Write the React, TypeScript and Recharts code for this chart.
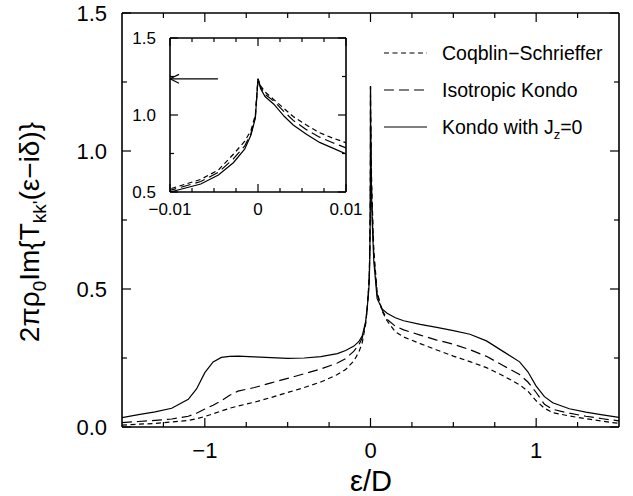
import React from 'react';
import { LineChart, Line, XAxis, YAxis, ReferenceLine, Legend, Label } from 'recharts';

// ---------- data ----------
const xValues = [
  -1.5, -1.4, -1.3, -1.2, -1.1, -1.05, -1.0, -0.95, -0.9, -0.85,
  -0.8, -0.7, -0.6, -0.5, -0.4, -0.3, -0.2, -0.15, -0.1, -0.07,
  -0.05, -0.03, -0.02, -0.01, -0.0065, -0.0045, -0.0028, -0.0015, -0.0008, -0.0003,
  0, 0.0003, 0.0008, 0.0018, 0.003, 0.004, 0.0055, 0.007, 0.0085, 0.01,
  0.02, 0.04, 0.07, 0.1, 0.15, 0.2, 0.3, 0.4, 0.5, 0.6,
  0.7, 0.8, 0.9, 0.95, 1.0, 1.05, 1.1, 1.2, 1.3, 1.4, 1.5,
];

const coqblinSchrieffer = [
  0.007, 0.01, 0.013, 0.018, 0.024, 0.03, 0.038, 0.048, 0.058, 0.068,
  0.076, 0.09, 0.107, 0.125, 0.143, 0.163, 0.19, 0.208, 0.24, 0.272,
  0.305, 0.37, 0.425, 0.52, 0.582, 0.643, 0.745, 0.83, 0.9, 1.0,
  1.235, 1.19, 1.15, 1.1, 1.04, 0.99, 0.935, 0.885, 0.85, 0.82,
  0.64, 0.49, 0.42, 0.385, 0.345, 0.326, 0.302, 0.279, 0.257, 0.237,
  0.215, 0.186, 0.153, 0.13, 0.095, 0.068, 0.052, 0.04, 0.03, 0.021, 0.013,
];

const isotropicKondo = [
  0.016, 0.02, 0.024, 0.029, 0.039, 0.05, 0.065, 0.079, 0.095, 0.115,
  0.13, 0.143, 0.16, 0.176, 0.193, 0.21, 0.232, 0.248, 0.275, 0.298,
  0.322, 0.375, 0.43, 0.51, 0.568, 0.628, 0.715, 0.8, 0.88, 0.99,
  1.235, 1.18, 1.135, 1.09, 1.02, 0.965, 0.905, 0.856, 0.82, 0.786,
  0.62, 0.48, 0.425, 0.39, 0.365, 0.352, 0.333, 0.315, 0.3, 0.28,
  0.256, 0.223, 0.19, 0.163, 0.125, 0.082, 0.064, 0.05, 0.039, 0.03, 0.022,
];

const kondoJz0 = [
  0.034, 0.045, 0.055, 0.068, 0.1, 0.138, 0.197, 0.236, 0.252, 0.256,
  0.257, 0.254, 0.251, 0.249, 0.25, 0.255, 0.266, 0.277, 0.293, 0.31,
  0.33, 0.38, 0.43, 0.5, 0.552, 0.61, 0.69, 0.78, 0.87, 0.98,
  1.235, 1.17, 1.12, 1.07, 0.99, 0.935, 0.875, 0.822, 0.785, 0.748,
  0.6, 0.465, 0.428, 0.412, 0.396, 0.385, 0.372, 0.361, 0.349, 0.336,
  0.312, 0.274, 0.236, 0.2, 0.148, 0.11, 0.088, 0.066, 0.054, 0.044, 0.035,
];

const seriesLabels = ['Coqblin\u2212Schrieffer', 'Isotropic Kondo', 'Kondo with J'];

const mainXTicks = [-1.25, -1, -0.75, -0.5, -0.25, 0, 0.25, 0.5, 0.75, 1, 1.25];
const mainXLabels = [-1, 0, 1];
const mainYTicks = [0, 0.25, 0.5, 0.75, 1, 1.25, 1.5];
const mainYLabels = [0, 0.5, 1, 1.5];

const insetXTicks = [-0.01, -0.0075, -0.005, -0.0025, 0, 0.0025, 0.005, 0.0075, 0.01];
const insetXLabels = [-0.01, 0, 0.01];
const insetYTicks = [0.5, 0.75, 1, 1.25, 1.5];
const insetYLabels = [0.5, 1, 1.5];

// arrow annotation in the inset (data units)
const arrowY = 1.235;
const arrowTipX = -0.01;
const arrowTailX = -0.00455;
const arrowHeadDx = 0.00102;
const arrowHeadDy = 0.029;

const rows = xValues.map((x, i) => ({
  x,
  cs: coqblinSchrieffer[i],
  iso: isotropicKondo[i],
  kz: kondoJz0[i],
}));

// ---------- styles ----------
const FONT = '"Liberation Sans", Arial, Helvetica, sans-serif';
const W = 633;
const H = 496;
const CS_DASH = '5 3.5';
const ISO_DASH = '10 5';

const fmtX = (v: number) => (v < 0 ? '\u2212' + String(Math.abs(v)) : String(v));
const fmtY = (v: number) => v.toFixed(1);
const isIn = (arr: number[], v: number) => arr.some((a) => Math.abs(a - v) < 1e-9);

type TickOpts = {
  labels: number[];
  side: 'bottom' | 'top' | 'left' | 'right';
  major: number;
  minor: number;
  fontSize?: number;
  labelOffset?: number;
  fmt?: (v: number) => string;
};

function makeTick(o: TickOpts) {
  return (props: any) => {
    const { x, y, payload } = props;
    const v = payload.value as number;
    const isMajor = isIn(o.labels, v);
    const len = isMajor ? o.major : o.minor;
    let x2 = x;
    let y2 = y;
    if (o.side === 'bottom') y2 = y - len;
    if (o.side === 'top') y2 = y + len;
    if (o.side === 'left') x2 = x + len;
    if (o.side === 'right') x2 = x - len;
    let label = null;
    if (isMajor && o.fmt && o.fontSize) {
      if (o.side === 'bottom') {
        label = (
          <text x={x} y={y + (o.labelOffset || 0)} textAnchor="middle" fontSize={o.fontSize} fontFamily={FONT} fill="#000">
            {o.fmt(v)}
          </text>
        );
      } else if (o.side === 'left') {
        label = (
          <text x={x - (o.labelOffset || 0)} y={y + o.fontSize * 0.36} textAnchor="end" fontSize={o.fontSize} fontFamily={FONT} fill="#000">
            {o.fmt(v)}
          </text>
        );
      }
    }
    return (
      <g>
        <line x1={x} y1={y} x2={x2} y2={y2} stroke="#000" strokeWidth={1.2} />
        {label}
      </g>
    );
  };
}

const axisLine = { stroke: '#000', strokeWidth: 1.6 };

const renderXTitle = () => (
  <text x={371} y={491} textAnchor="middle" fontSize={29} fontFamily={FONT} fill="#000">
    ε/D
  </text>
);

const renderYTitle = () => (
  <text
    x={0}
    y={0}
    transform="translate(39,232) rotate(-90)"
    textAnchor="middle"
    fontSize={28}
    fontFamily={FONT}
    fill="#000"
  >
    <tspan>2πρ</tspan>
    <tspan fontSize={19} dy={7}>0</tspan>
    <tspan dy={-7}>Im{'{'}T</tspan>
    <tspan fontSize={19} dy={7}>kk'</tspan>
    <tspan dy={-7}>(ε−iδ){'}'}</tspan>
  </text>
);

const legendDashes = [CS_DASH, ISO_DASH, undefined];

const renderLegend = () => (
  <svg width={245} height={120} style={{ display: 'block' }}>
    {seriesLabels.map((name, i) => {
      const cy = 23 + i * 37;
      return (
        <g key={name}>
          <line x1={9} x2={52} y1={cy} y2={cy} stroke="#000" strokeWidth={1.2} strokeDasharray={legendDashes[i]} />
          <text x={67} y={cy + 7} fontSize={19.5} fontFamily={FONT} fill="#000">
            <tspan>{name}</tspan>
            {i === 2 && (
              <>
                <tspan fontSize={13} dy={5}>z</tspan>
                <tspan dy={-5}>=0</tspan>
              </>
            )}
          </text>
        </g>
      );
    })}
  </svg>
);

// plot-area rectangles (pixels in the 633x496 picture)
const MAIN = { left: 122, right: 619, top: 13, bottom: 427 };
const INSET = { left: 170, right: 346, top: 38, bottom: 192 };

function MainChart() {
  return (
    <LineChart
      width={W}
      height={H}
      data={rows}
      margin={{ top: MAIN.top - 1, right: W - MAIN.right - 1, bottom: H - MAIN.bottom - 1, left: MAIN.left - 1 }}
    >
      <XAxis
        xAxisId="b"
        dataKey="x"
        type="number"
        domain={[-1.5, 1.5]}
        allowDataOverflow
        ticks={mainXTicks}
        interval={0}
        height={1}
        tickSize={0}
        tickMargin={0}
        tickLine={false}
        axisLine={axisLine}
        tick={makeTick({ labels: mainXLabels, side: 'bottom', major: 9, minor: 5, fontSize: 22, labelOffset: 31, fmt: fmtX })}
      >
        <Label content={renderXTitle} />
      </XAxis>
      <XAxis
        xAxisId="t"
        orientation="top"
        dataKey="x"
        type="number"
        domain={[-1.5, 1.5]}
        allowDataOverflow
        ticks={mainXTicks}
        interval={0}
        height={1}
        tickSize={0}
        tickMargin={0}
        tickLine={false}
        axisLine={axisLine}
        tick={makeTick({ labels: mainXLabels, side: 'top', major: 9, minor: 5 })}
      />
      <YAxis
        yAxisId="l"
        type="number"
        domain={[0, 1.5]}
        allowDataOverflow
        ticks={mainYTicks}
        interval={0}
        width={1}
        tickSize={0}
        tickMargin={0}
        tickLine={false}
        axisLine={axisLine}
        tick={makeTick({ labels: mainYLabels, side: 'left', major: 9, minor: 5, fontSize: 22, labelOffset: 15, fmt: fmtY })}
      >
        <Label content={renderYTitle} />
      </YAxis>
      <YAxis
        yAxisId="r"
        orientation="right"
        type="number"
        domain={[0, 1.5]}
        allowDataOverflow
        ticks={mainYTicks}
        interval={0}
        width={1}
        tickSize={0}
        tickMargin={0}
        tickLine={false}
        axisLine={axisLine}
        tick={makeTick({ labels: mainYLabels, side: 'right', major: 9, minor: 5 })}
      />
      <Legend
        content={renderLegend}
        layout="horizontal"
        verticalAlign="middle"
        align="center"
        wrapperStyle={{ left: 375, top: 30, width: 245, height: 120 }}
      />
      <Line xAxisId="b" yAxisId="l" dataKey="cs" type="linear" stroke="#000" strokeWidth={1.2} strokeDasharray={CS_DASH} dot={false} isAnimationActive={false} />
      <Line xAxisId="b" yAxisId="l" dataKey="iso" type="linear" stroke="#000" strokeWidth={1.2} strokeDasharray={ISO_DASH} dot={false} isAnimationActive={false} />
      <Line xAxisId="b" yAxisId="l" dataKey="kz" type="linear" stroke="#000" strokeWidth={1.2} dot={false} isAnimationActive={false} />
    </LineChart>
  );
}

function InsetChart() {
  return (
    <LineChart
      width={W}
      height={H}
      data={rows}
      margin={{ top: INSET.top - 1, right: W - INSET.right - 1, bottom: H - INSET.bottom - 1, left: INSET.left - 1 }}
    >
      <XAxis
        xAxisId="b"
        dataKey="x"
        type="number"
        domain={[-0.01, 0.01]}
        allowDataOverflow
        ticks={insetXTicks}
        interval={0}
        height={1}
        tickSize={0}
        tickMargin={0}
        tickLine={false}
        axisLine={axisLine}
        tick={makeTick({ labels: insetXLabels, side: 'bottom', major: 8, minor: 4, fontSize: 17, labelOffset: 23, fmt: fmtX })}
      />
      <XAxis
        xAxisId="t"
        orientation="top"
        dataKey="x"
        type="number"
        domain={[-0.01, 0.01]}
        allowDataOverflow
        ticks={insetXTicks}
        interval={0}
        height={1}
        tickSize={0}
        tickMargin={0}
        tickLine={false}
        axisLine={axisLine}
        tick={makeTick({ labels: insetXLabels, side: 'top', major: 8, minor: 4 })}
      />
      <YAxis
        yAxisId="l"
        type="number"
        domain={[0.5, 1.5]}
        allowDataOverflow
        ticks={insetYTicks}
        interval={0}
        width={1}
        tickSize={0}
        tickMargin={0}
        tickLine={false}
        axisLine={axisLine}
        tick={makeTick({ labels: insetYLabels, side: 'left', major: 8, minor: 4, fontSize: 17, labelOffset: 14, fmt: fmtY })}
      />
      <YAxis
        yAxisId="r"
        orientation="right"
        type="number"
        domain={[0.5, 1.5]}
        allowDataOverflow
        ticks={insetYTicks}
        interval={0}
        width={1}
        tickSize={0}
        tickMargin={0}
        tickLine={false}
        axisLine={axisLine}
        tick={makeTick({ labels: insetYLabels, side: 'right', major: 8, minor: 4 })}
      />
      <Line xAxisId="b" yAxisId="l" dataKey="cs" type="linear" stroke="#000" strokeWidth={1.2} strokeDasharray={CS_DASH} dot={false} isAnimationActive={false} />
      <Line xAxisId="b" yAxisId="l" dataKey="iso" type="linear" stroke="#000" strokeWidth={1.2} strokeDasharray={ISO_DASH} dot={false} isAnimationActive={false} />
      <Line xAxisId="b" yAxisId="l" dataKey="kz" type="linear" stroke="#000" strokeWidth={1.2} dot={false} isAnimationActive={false} />
      <ReferenceLine xAxisId="b" yAxisId="l" ifOverflow="visible" stroke="#000" strokeWidth={1.2}
        segment={[{ x: arrowTipX, y: arrowY }, { x: arrowTailX, y: arrowY }]} />
      <ReferenceLine xAxisId="b" yAxisId="l" ifOverflow="visible" stroke="#000" strokeWidth={1.2}
        segment={[{ x: arrowTipX, y: arrowY }, { x: arrowTipX + arrowHeadDx, y: arrowY + arrowHeadDy }]} />
      <ReferenceLine xAxisId="b" yAxisId="l" ifOverflow="visible" stroke="#000" strokeWidth={1.2}
        segment={[{ x: arrowTipX, y: arrowY }, { x: arrowTipX + arrowHeadDx, y: arrowY - arrowHeadDy }]} />
    </LineChart>
  );
}

export default function App() {
  return (
    <div style={{ position: 'absolute', left: 0, top: 0, width: W, height: H, background: '#fff', overflow: 'hidden' }}>
      <div style={{ position: 'absolute', left: 0, top: 0 }}>
        <MainChart />
      </div>
      <div style={{ position: 'absolute', left: 0, top: 0 }}>
        <InsetChart />
      </div>
    </div>
  );
}
